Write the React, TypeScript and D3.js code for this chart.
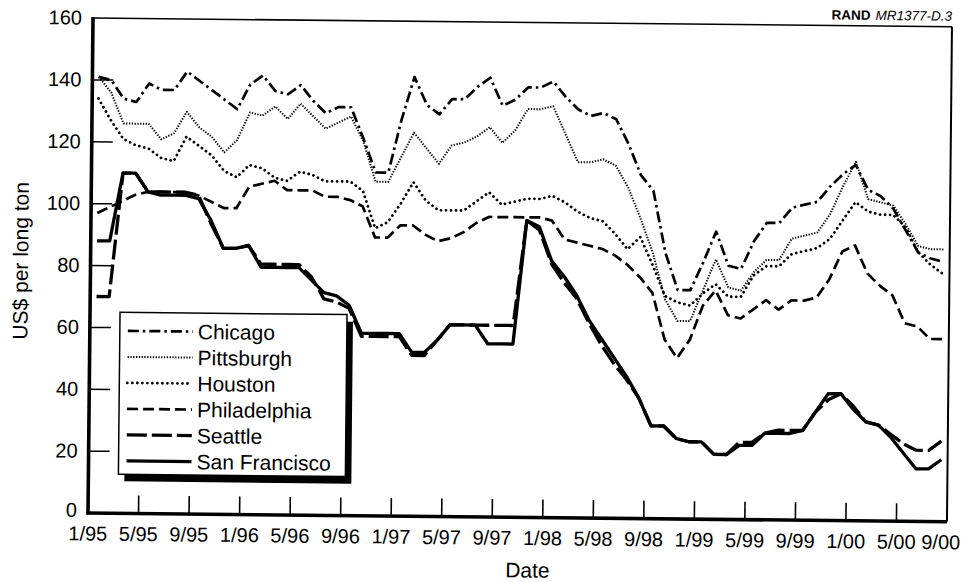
import React from 'react';
import * as d3 from 'd3';

// Monthly prices, Jan 1995 .. Aug 2000 (US$ per long ton)
const chicago = [141,140,134,133,139,137,137,143,140,137,134,131,139,142,137,136,139,134,130,132,132,122,111,111,128,142,133,130,135,135,139,142,133,135,139,139,141,136,132,130,131,129,121,111,106,86,74,74,83,93,82,81,90,96,96,101,102,103,108,112,115,107,105,101,94,87,85,84];
const pittsburgh = [141,136,126,126,126,121,123,130,125,122,117,121,130,129,132,128,133,129,125,127,129,121,108,108,116,124,119,114,120,121,123,126,121,125,132,132,133,124,115,115,116,114,107,97,86,71,64,64,74,84,75,74,80,84,84,91,92,93,99,108,116,104,103,102,96,89,88,88];
const houston = [134,127,121,119,118,115,114,122,119,116,111,109,113,112,109,108,111,110,108,108,108,105,93,95,101,108,102,99,99,99,102,105,101,102,103,103,104,102,99,97,96,92,87,91,82,72,70,69,73,76,72,72,79,82,82,86,87,88,91,97,103,100,99,99,95,87,83,80];
const philadelphia = [97,99,101,103,104,104,104,104,103,101,99,99,106,107,108,105,105,105,103,103,102,100,90,90,94,94,91,89,90,92,95,97,97,97,97,97,96,90,89,88,87,85,82,78,73,58,52,58,69,74,66,65,68,71,68,71,71,72,78,87,89,80,76,73,64,63,59,59];
const seattle = [70,70,110,110,104,104,104,104,103,94,86,86,87,81,81,81,81,77,70,69,67,58,58,58,58,52,52,57,62,62,62,62,62,62,96,93,82,76,71,63,56,50,45,39,30,30,26,25,25,21,21,25,25,28,29,29,29,35,39,41,37,32,31,28,25,23,23,26];
const sanFrancisco = [88,88,110,110,104,103,103,103,102,95,86,86,87,80,80,80,80,76,72,71,68,59,59,59,59,53,53,57,62,62,62,56,56,56,96,94,83,78,72,64,58,52,46,39,30,30,26,25,25,21,21,24,24,28,28,28,29,35,41,41,36,32,31,27,22,17,17,20];

const seriesNames = ['Chicago', 'Pittsburgh', 'Houston', 'Philadelphia', 'Seattle', 'San Francisco'];
const seriesValues = [chicago, pittsburgh, houston, philadelphia, seattle, sanFrancisco];

const xTickLabels = ['1/95','5/95','9/95','1/96','5/96','9/96','1/97','5/97','9/97','1/98','5/98','9/98','1/99','5/99','9/99','1/00','5/00','9/00'];
const yTickValues = [0,20,40,60,80,100,120,140,160];

const styles: Record<string, { w: number; dash: string; cap: 'butt' | 'round' }> = {
  'Chicago': { w: 2.7, dash: '11,4,2.5,4', cap: 'butt' },
  'Pittsburgh': { w: 2, dash: '1.3,1.5', cap: 'butt' },
  'Houston': { w: 2.8, dash: '0.01,5', cap: 'round' },
  'Philadelphia': { w: 2.7, dash: '11,5', cap: 'butt' },
  'Seattle': { w: 3.3, dash: '20,5', cap: 'butt' },
  'San Francisco': { w: 3.3, dash: '', cap: 'butt' },
};

const W = 962, H = 582;
const X0 = 88, X1 = 947, YT = 18, YB = 513;
const FONT = '"Liberation Sans", Arial, Helvetica, sans-serif';

export default function App() {
  const x = d3.scaleLinear().domain([0, 68]).range([X0, X1]);
  const y = d3.scaleLinear().domain([0, 160]).range([YB, YT]);
  const line = d3.line<number>().x((_, i) => x(i + 0.5)).y((v) => y(v));
  const drawOrder = [3, 2, 1, 0, 4, 5];

  const legX = 118, legY = 312, legW = 227, legH = 162;
  const rowY0 = 330.5, rowStep = 26;

  return (
    <svg width={W} height={H} style={{ position: 'absolute', left: 0, top: 0, display: 'block', background: '#fff' }} fontFamily={FONT}>
      <rect x={0} y={0} width={W} height={H} fill="#fff" />
      <g transform={`rotate(0.58 ${X0} ${YB})`}>
        {/* title */}
        <text x={X1} y={12} textAnchor="end" fontSize={13.5} fill="#000">
          <tspan fontWeight="bold">RAND</tspan>
          <tspan fontStyle="italic" dx={5}>MR1377-D.3</tspan>
        </text>

        {/* frame */}
        <line x1={X0} x2={X1} y1={YT} y2={YT} stroke="#000" strokeWidth={1.6} />
        <line x1={X1} x2={X1} y1={YT} y2={YB} stroke="#000" strokeWidth={2} />

        {/* y ticks */}
        {yTickValues.map((v) => (
          <g key={'y' + v}>
            {v > 0 && v < 160 && (
              <line x1={X0} x2={X0 + 21} y1={y(v)} y2={y(v)} stroke="#000" strokeWidth={1.5} />
            )}
            <text x={77} y={y(v)} dy={v === 0 ? '0.2em' : '0.33em'} textAnchor="end" fontSize={20} fill="#000">{v}</text>
          </g>
        ))}

        {/* x ticks */}
        {xTickLabels.map((lab, i) => {
          const xv = x(i * 4);
          const tx = Math.min(xv, W - 21);
          return (
            <g key={'x' + lab}>
              {i > 0 && i < xTickLabels.length - 1 && (
                <line x1={xv} x2={xv} y1={YB} y2={YB - 18} stroke="#000" strokeWidth={1.6} />
              )}
              <text x={tx} y={540.5} textAnchor="middle" fontSize={20} fill="#000">{lab}</text>
            </g>
          );
        })}

        {/* series */}
        {drawOrder.map((k) => {
          const name = seriesNames[k];
          const st = styles[name];
          return (
            <path key={name} d={line(seriesValues[k]) || ''} fill="none" stroke="#000"
              strokeWidth={st.w} strokeDasharray={st.dash || undefined}
              strokeLinecap={st.cap} strokeLinejoin="round" />
          );
        })}

        {/* axes (thick) */}
        <line x1={X0} x2={X0} y1={YT - 1} y2={YB + 1.5} stroke="#000" strokeWidth={3.6} />
        <line x1={X0 - 1.5} x2={X1} y1={YB} y2={YB} stroke="#000" strokeWidth={3.6} />

        {/* legend */}
        <rect x={legX + 6} y={legY + 7} width={legW} height={legH} fill="#000" />
        <rect x={legX} y={legY} width={legW} height={legH} fill="#fff" stroke="#000" strokeWidth={1.5} />
        {seriesNames.map((name, i) => {
          const st = styles[name];
          const ry = rowY0 + i * rowStep;
          return (
            <g key={'leg' + name}>
              <line x1={126} x2={191} y1={ry} y2={ry} stroke="#000" strokeWidth={st.w}
                strokeDasharray={st.dash || undefined} strokeLinecap={st.cap} />
              <text x={196} y={ry} dy="0.36em" fontSize={21} fill="#000">{name}</text>
            </g>
          );
        })}

        {/* axis titles */}
        <text transform="translate(25.5,261.5) rotate(-90)" textAnchor="middle" fontSize={21} fill="#000">US$ per long ton</text>
        <text x={528} y={573} textAnchor="middle" fontSize={21} fill="#000">Date</text>
      </g>
    </svg>
  );
}
